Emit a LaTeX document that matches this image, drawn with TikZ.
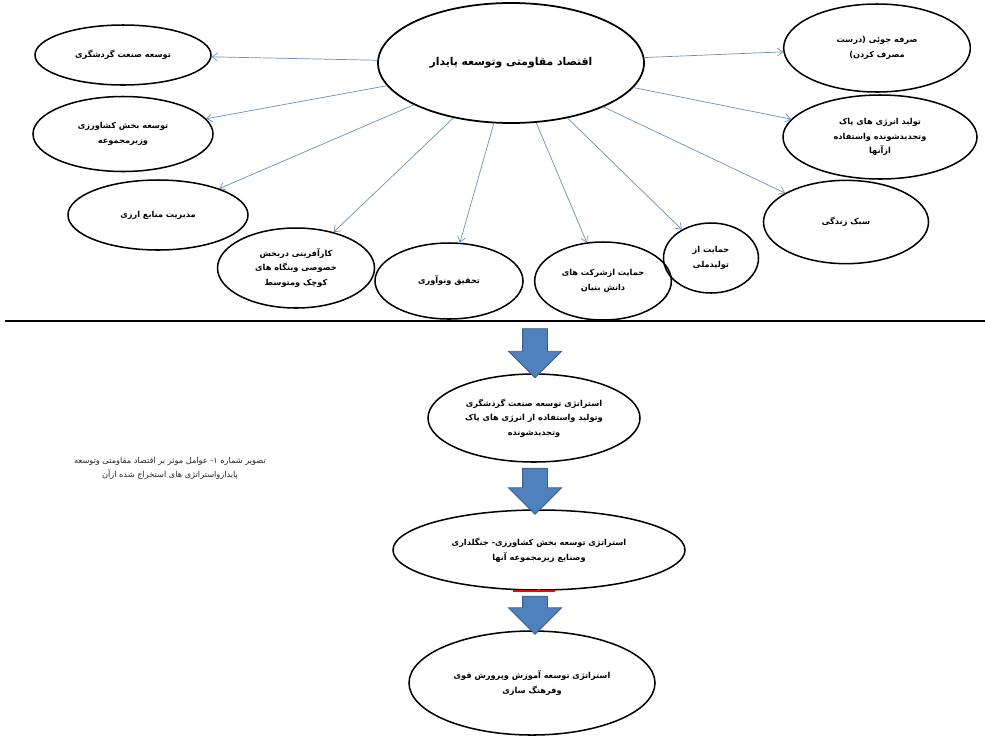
\documentclass[tikz,border=0pt]{standalone}
\usepackage{fontspec}
\newfontfamily\arabicfont[Script=Arabic]{DejaVu Sans}
\TeXXeTstate=1
\usepackage{xcolor}
\usetikzlibrary{arrows.meta, positioning, shapes.geometric, shapes.arrows}
\definecolor{linkblue}{HTML}{6F8FB8}
\definecolor{arrowblue}{HTML}{4F81BD}
\definecolor{arrowedge}{HTML}{385D8A}
\newcommand{\fatext}[1]{\beginR #1\endR}

\begin{document}
\begin{tikzpicture}[x=0.03cm, y=-0.03cm, >={Straight Barb[length=1.6mm, width=2.4mm]},
            oval/.style={ellipse, draw, line width=1.3pt, inner sep=0pt, align=center, font=\arabicfont\bfseries\fontsize{7}{12.5}\selectfont},
            link/.style={->, draw=linkblue, line width=0.6pt},
            blockarrow/.style={single arrow, rotate=-90, fill=arrowblue, draw=arrowedge, line width=0.8pt, inner xsep=0pt, inner ysep=0.36cm, single arrow head extend=0.42cm, single arrow head indent=0pt, minimum width=1.56cm}]
            \useasboundingbox (0,0) rectangle (985,742);

            % Nodes
            \node[oval, line width=1.5pt, minimum width=7.98cm, minimum height=3.6cm, font=\arabicfont\bfseries\fontsize{9.2}{12}\selectfont] (main) at (511,63) {\fatext{اقتصاد مقاومتی وتوسعه پایدار}};
            \node[oval, minimum width=5.28cm, minimum height=1.8cm] (tour) at (123,55) {\fatext{توسعه صنعت گردشگری}};
            \node[oval, minimum width=5.4cm, minimum height=2.25cm] (agri) at (123,134) {\fatext{توسعه بخش کشاورزی}\\ \fatext{وزیرمجموعه}};
            \node[oval, minimum width=5.4cm, minimum height=2.1cm] (curr) at (158,215) {\fatext{مدیریت منابع ارزی}};
            \node[oval, minimum width=4.71cm, minimum height=2.4cm] (entr) at (296,268) {\fatext{کارآفرینی دربخش}\\ \fatext{خصوصی وبنگاه های}\\ \fatext{کوچک ومتوسط}};
            \node[oval, minimum width=4.44cm, minimum height=2.28cm] (res) at (449,281) {\fatext{تحقیق ونوآوری}};
            \node[oval, minimum width=4.1cm, minimum height=2.34cm] (know) at (603,281) {\fatext{حمایت ازشرکت های}\\ \fatext{دانش بنیان}};
            \node[oval, minimum width=2.85cm, minimum height=2.1cm] (prod) at (711,258) {\fatext{حمایت از}\\ \fatext{تولیدملی}};
            \node[oval, minimum width=4.95cm, minimum height=2.5cm] (life) at (846,222) {\fatext{سبک زندگی}};
            \node[oval, minimum width=5.82cm, minimum height=2.52cm] (ener) at (880,137) {\fatext{تولید انرژی های پاک}\\ \fatext{وتجدیدشونده واستفاده}\\ \fatext{ازآنها}};
            \node[oval, minimum width=5.6cm, minimum height=2.64cm] (save) at (877,48) {\fatext{صرفه جوئی (درست}\\ \fatext{مصرف کردن)}};

            \node[oval, minimum width=6.36cm, minimum height=2.64cm] (strat1) at (534,418) {\fatext{استراتژی توسعه صنعت گردشگری}\\ \fatext{وتولید واستفاده از انرژی های پاک}\\ \fatext{وتجدیدشونده}};
            \node[oval, minimum width=8.76cm, minimum height=2.4cm] (strat2) at (539,550) {\fatext{استراتژی توسعه بخش کشاورزی- جنگلداری}\\ \fatext{وصنایع زیرمجموعه آنها}};
            \node[oval, minimum width=7.38cm, minimum height=3.12cm] (strat3) at (532,683) {\fatext{استراتژی توسعه آموزش وپرورش قوی}\\ \fatext{وفرهنگ سازی}};

            \node[align=center, font=\arabicfont\fontsize{7}{12}\selectfont, text=black!85] (caption) at (170,468) {\fatext{تصویر شماره ۱- عوامل موثر بر اقتصاد مقاومتی وتوسعه}\\ \fatext{پایدارواستراتژی های استخراج شده ازآن}};

            % Block arrows
            \node[blockarrow, minimum height=1.47cm] (arr1) at (535,347) {};
            \node[blockarrow, minimum height=1.38cm] (arr2) at (535,485) {};
            \node[blockarrow, minimum height=1.14cm] (arr3) at (535,609) {};

            % Divider
            \coordinate (divL) at (5,321);
            \coordinate (divR) at (985,321);
            \draw[line width=2pt] (divL) -- (divR);
            \draw[red, line width=1.5pt] (513,591) -- (555,591);

            % Edges
            \draw[link] (main) -- (tour);
            \draw[link] (main) -- (agri);
            \draw[link] (main) -- (curr);
            \draw[link] (main) -- (entr);
            \draw[link] (main) -- (res);
            \draw[link] (main) -- (know);
            \draw[link] (main) -- (prod);
            \draw[link] (main) -- (life);
            \draw[link] (main) -- (ener);
            \draw[link] (main) -- (save);
\end{tikzpicture}
\end{document}
